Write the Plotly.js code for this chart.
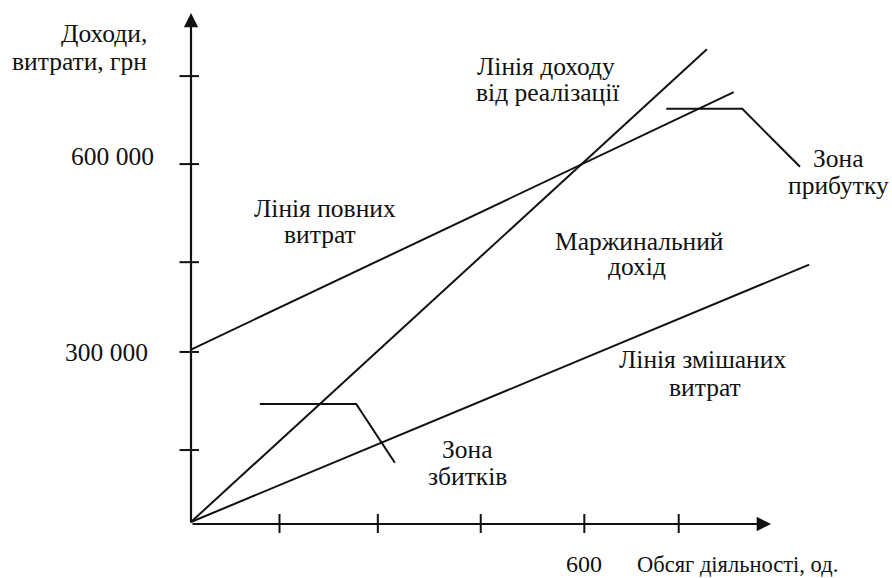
<!DOCTYPE html>
<html><head><meta charset="utf-8">
<script src="https://cdn.plot.ly/plotly-3.0.1.min.js"></script>
<style>html,body{margin:0;padding:0;background:#fff}#chart{width:892px;height:578px}</style>
</head><body><div id="chart"></div>
<script>
// ---- data (volume in units, money in UAH) ----
const revenueVolume = [0, 787];
const revenueValue = [0, 795000];
const totalCostVolume = [0, 828];
const totalCostValue = [290000, 723000];
const mixedCostVolume = [0, 943];
const mixedCostValue = [0, 433000];
const lossPointerVolume = [105, 252, 311];
const lossPointerValue = [198500, 198500, 99700];
const profitPointerVolume = [725, 841, 929];
const profitPointerValue = [695000, 695000, 597600];
const xTickVals = [135, 285, 442, 600, 744];
const xTickText = ['', '', '', '600', ''];
const yTickVals = [121000, 286000, 437000, 602000, 750000];
const yTickText = ['', '300 000', '', '600 000', ''];

// ---- layout helpers (pixel -> data); origin sits at pixel (191, 522) ----
const OX = 191, OY = 522;
const XPP = 1.5255, YPP = 1682;
const px2x = p => (p - OX) * XPP;
const py2y = p => (OY - p) * YPP;
const FONT = 'Liberation Serif, DejaVu Serif, serif';
const INK = '#111';
const FS = 25.5;

const lineStyle = {color: INK, width: 2};
const traces = [
  {x: revenueVolume, y: revenueValue, mode: 'lines', line: lineStyle, cliponaxis: false, hoverinfo: 'skip'},
  {x: totalCostVolume, y: totalCostValue, mode: 'lines', line: lineStyle, cliponaxis: false, hoverinfo: 'skip'},
  {x: mixedCostVolume, y: mixedCostValue, mode: 'lines', line: lineStyle, cliponaxis: false, hoverinfo: 'skip'},
  {x: lossPointerVolume, y: lossPointerValue, mode: 'lines', line: lineStyle, cliponaxis: false, hoverinfo: 'skip'},
  {x: profitPointerVolume, y: profitPointerValue, mode: 'lines', line: lineStyle, cliponaxis: false, hoverinfo: 'skip'}
];

const axisY0 = py2y(524);
const shapes = [];
xTickVals.forEach(v => shapes.push({type: 'line', xref: 'x', yref: 'y', x0: v, x1: v,
  ysizemode: 'pixel', yanchor: axisY0, y0: -9, y1: 10, line: {color: INK, width: 2}}));
yTickVals.forEach(v => shapes.push({type: 'line', xref: 'x', yref: 'y', y0: v, y1: v,
  xsizemode: 'pixel', xanchor: 0, x0: -11.5, x1: 8, line: {color: INK, width: 2}}));

const ann = [];
// axes with arrow heads
ann.push({x: px2x(771), y: axisY0, ax: 0, ay: axisY0, axref: 'x', ayref: 'y', xref: 'x', yref: 'y',
  showarrow: true, arrowhead: 2, arrowsize: 1.3, arrowwidth: 2.2, arrowcolor: INK, text: ''});
ann.push({x: 0, y: py2y(13), ax: 0, ay: axisY0, axref: 'x', ayref: 'y', xref: 'x', yref: 'y',
  showarrow: true, arrowhead: 2, arrowsize: 1.3, arrowwidth: 2.2, arrowcolor: INK, text: ''});

function txt(t, xpx, basePx, size, anchor) {
  ann.push({text: t, xref: 'x', yref: 'y', x: px2x(xpx), y: py2y(basePx - 0.34 * size),
    xanchor: anchor || 'center', yanchor: 'middle', showarrow: false, borderpad: 0,
    font: {family: FONT, size: size, color: INK}});
}
// tick labels
xTickVals.forEach((v, i) => { if (xTickText[i]) ann.push({text: xTickText[i], xref: 'x', yref: 'y', x: v, y: py2y(572 - 0.34*24),
  xanchor: 'center', yanchor: 'middle', showarrow: false, borderpad: 0, font: {family: FONT, size: 24, color: INK}}); });
const yLabelRight = [0, 149, 0, 155, 0];
const yLabelShift = [0, -0.5, 0, 8, 0];
yTickVals.forEach((v, i) => { if (yTickText[i]) ann.push({text: yTickText[i], xref: 'x', yref: 'y', x: px2x(yLabelRight[i]),
  y: v, yshift: yLabelShift[i], xanchor: 'right', yanchor: 'middle', showarrow: false, borderpad: 0,
  font: {family: FONT, size: FS, color: INK}}); });

txt('Доходи,', 148, 42, FS, 'right');
txt('витрати, грн', 148, 70, FS, 'right');
txt('Лінія доходу', 545.5, 75, FS);
txt('від реалізації', 547.5, 101.5, FS);
txt('Зона', 838.5, 167.5, FS);
txt('прибутку', 838.5, 194, FS);
txt('Лінія повних', 324.5, 217, FS);
txt('витрат', 320, 243, FS);
txt('Маржинальний', 639, 250, FS);
txt('дохід', 636.5, 275, FS);
txt('Лінія змішаних', 702, 368, FS);
txt('витрат', 705, 396.5, FS);
txt('Зона', 467, 458, FS);
txt('збитків', 467, 485, FS);
txt('Обсяг діяльності, од.', 737.5, 572, 22.5);

const layout = {
  width: 892, height: 578, margin: {l: 0, r: 0, t: 0, b: 0},
  paper_bgcolor: '#fff', plot_bgcolor: '#fff', showlegend: false,
  xaxis: {range: [px2x(0), px2x(892)], visible: false, fixedrange: true},
  yaxis: {range: [py2y(578), py2y(0)], visible: false, fixedrange: true},
  shapes: shapes, annotations: ann
};
Plotly.newPlot('chart', traces, layout, {staticPlot: true});
</script></body></html>
